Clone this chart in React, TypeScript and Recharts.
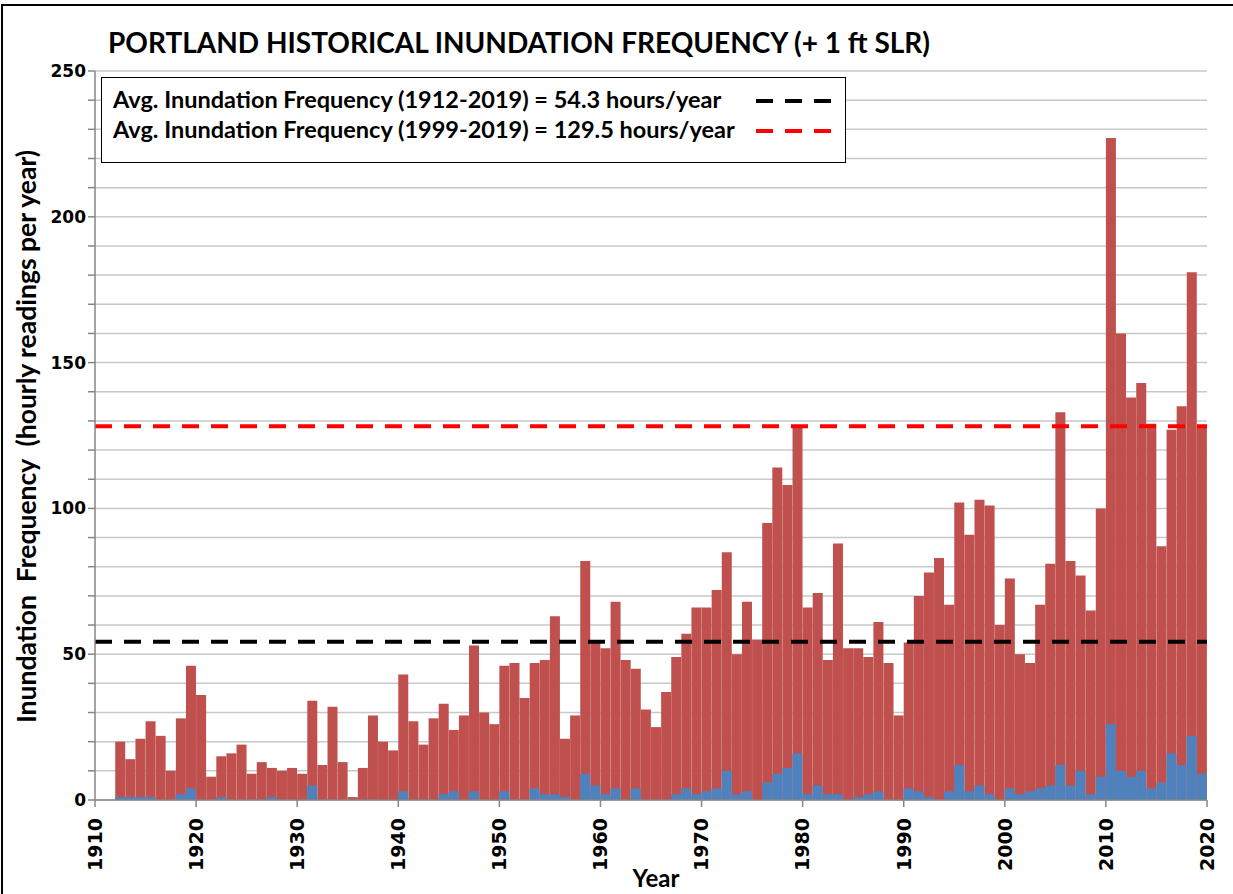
import { ComposedChart, Bar, XAxis, YAxis, CartesianGrid, ReferenceLine, Label } from 'recharts'

const years = [
  1912, 1913, 1914, 1915, 1916, 1917, 1918, 1919,
  1920, 1921, 1922, 1923, 1924, 1925, 1926, 1927, 1928, 1929,
  1930, 1931, 1932, 1933, 1934, 1935, 1936, 1937, 1938, 1939,
  1940, 1941, 1942, 1943, 1944, 1945, 1946, 1947, 1948, 1949,
  1950, 1951, 1952, 1953, 1954, 1955, 1956, 1957, 1958, 1959,
  1960, 1961, 1962, 1963, 1964, 1965, 1966, 1967, 1968, 1969,
  1970, 1971, 1972, 1973, 1974, 1975, 1976, 1977, 1978, 1979,
  1980, 1981, 1982, 1983, 1984, 1985, 1986, 1987, 1988, 1989,
  1990, 1991, 1992, 1993, 1994, 1995, 1996, 1997, 1998, 1999,
  2000, 2001, 2002, 2003, 2004, 2005, 2006, 2007, 2008, 2009,
  2010, 2011, 2012, 2013, 2014, 2015, 2016, 2017, 2018, 2019,
]

// hours per year with +1 ft sea level rise (red)
const plusOneFt = [
  20, 14, 21, 27, 22, 10, 28, 46,
  36, 8, 15, 16, 19, 9, 13, 11, 10, 11,
  9, 34, 12, 32, 13, 1, 11, 29, 20, 17,
  43, 27, 19, 28, 33, 24, 29, 53, 30, 26,
  46, 47, 35, 47, 48, 63, 21, 29, 82, 54,
  52, 68, 48, 45, 31, 25, 37, 49, 57, 66,
  66, 72, 85, 50, 68, 55, 95, 114, 108, 128,
  66, 71, 48, 88, 52, 52, 49, 61, 47, 29,
  54, 70, 78, 83, 67, 102, 91, 103, 101, 60,
  76, 50, 47, 67, 81, 133, 82, 77, 65, 100,
  227, 160, 138, 143, 129, 87, 127, 135, 181, 128,
]

// hours per year at present sea level (blue)
const current = [
  1, 1, 1, 1, 0, 0, 2, 4,
  0, 0, 1, 0, 0, 0, 0, 1, 0, 0,
  0, 5, 0, 0, 0, 0, 0, 0, 0, 0,
  3, 0, 0, 0, 2, 3, 0, 3, 0, 0,
  3, 0, 0, 4, 2, 2, 1, 0, 9, 5,
  2, 4, 0, 4, 0, 0, 0, 2, 4, 2,
  3, 4, 10, 2, 3, 0, 6, 9, 11, 16,
  2, 5, 2, 2, 0, 1, 2, 3, 0, 0,
  4, 3, 1, 0, 3, 12, 3, 5, 2, 0,
  4, 2, 3, 4, 5, 12, 5, 10, 2, 8,
  26, 10, 8, 10, 4, 6, 16, 12, 22, 9,
]

const xTicks = [1910, 1920, 1930, 1940, 1950, 1960, 1970, 1980, 1990, 2000, 2010, 2020]
const yTicks = [0, 10, 20, 30, 40, 50, 60, 70, 80, 90, 100, 110, 120, 130, 140, 150, 160, 170, 180, 190, 200, 210, 220, 230, 240, 250]
const yLabelTicks = [0, 50, 100, 150, 200, 250]

const avgLabels = [
  'Avg. Inundation Frequency (1912-2019) = 54.3 hours/year',
  'Avg. Inundation Frequency (1999-2019) = 129.5 hours/year',
]
const avgValues = [54.3, 128.2]
const avgColors = ['#000000', '#ff0000']

const data = years.map((y, i) => ({ x: y + 0.5, plus: plusOneFt[i], now: current[i] }))

const tickFont = '"DejaVu Sans", Verdana, sans-serif'
const textFont = 'Lato, Calibri, sans-serif'

function XTick({ x, y, payload }: any) {
  return (
    <g transform={`translate(${x},${y}) rotate(-90)`}>
      <text x={-9} dy="0.36em" textAnchor="end" fontFamily={tickFont} fontWeight="bold" fontSize={19} fill="#000">
        {payload.value}
      </text>
    </g>
  )
}

function YTick({ x, y, payload }: any) {
  if (!yLabelTicks.includes(payload.value)) return null
  return (
    <text x={x} y={y} dy="0.35em" textAnchor="end" fontFamily={tickFont} fontWeight="bold" fontSize={17} fill="#000">
      {payload.value}
    </text>
  )
}

export default function App() {
  return (
    <div style={{ position: 'absolute', left: 0, top: 0, width: 1233, height: 894, background: '#fff', overflow: 'hidden' }}>
      <div style={{ position: 'absolute', left: 1, top: 4, width: 1260, height: 920, border: '2px solid #000' }} />
      <div style={{ position: 'absolute', left: 108, top: 25, fontFamily: textFont, fontWeight: 'bold', fontSize: 28, color: '#000', whiteSpace: 'nowrap' }}>
        PORTLAND HISTORICAL INUNDATION FREQUENCY (+ 1 ft SLR)
      </div>
      <ComposedChart
        width={1233}
        height={894}
        data={data}
        margin={{ top: 71, right: 26, bottom: 24, left: 35 }}
        barCategoryGap={0}
        barGap="-100%"
      >
        <CartesianGrid vertical={false} stroke="#c8c8c8" strokeWidth={1.5} />
        <XAxis
          type="number"
          dataKey="x"
          domain={[1910, 2020]}
          ticks={xTicks}
          interval={0}
          height={70}
          tickSize={7}
          tick={<XTick />}
          axisLine={{ stroke: '#868686', strokeWidth: 1.5 }}
          tickLine={{ stroke: '#868686', strokeWidth: 1.5 }}
        >
          <Label
            content={({ viewBox }: any) => (
              <text x={viewBox.x + viewBox.width / 2 + 5} y={viewBox.y + 87} textAnchor="middle" fontFamily={textFont} fontWeight="bold" fontSize={24} fill="#000">
                Year
              </text>
            )}
          />
        </XAxis>
        <YAxis
          domain={[0, 250]}
          ticks={yTicks}
          interval={0}
          width={60}
          tickSize={7}
          tick={<YTick />}
          axisLine={{ stroke: '#868686', strokeWidth: 1.5 }}
          tickLine={{ stroke: '#868686', strokeWidth: 1.5 }}
        >
          <Label
            content={({ viewBox }: any) => (
              <text
                transform={`translate(${viewBox.x - 8},${viewBox.y + viewBox.height / 2 + 1}) rotate(-90)`}
                textAnchor="middle"
                dy="0.35em"
                fontFamily={textFont}
                fontWeight="bold"
                fontSize={26.5}
                fill="#000"
                style={{ whiteSpace: 'pre' }}
              >
                {'Inundation  Frequency  (hourly readings per year)'}
              </text>
            )}
          />
        </YAxis>
        <Bar dataKey="plus" fill="#c0504d" isAnimationActive={false} />
        <Bar dataKey="now" fill="#4f81bd" isAnimationActive={false} />
        {avgValues.map((v, i) => (
          <ReferenceLine key={i} y={v} stroke={avgColors[i]} strokeWidth={4} strokeDasharray="17 12" />
        ))}
      </ComposedChart>
      <div
        style={{
          position: 'absolute', left: 101, top: 77, width: 743, height: 84, border: '1.5px solid #000', background: '#fff',
          fontFamily: textFont, fontWeight: 'bold', fontSize: 23.5, color: '#000',
        }}
      >
        {avgLabels.map((t, i) => (
          <div key={i} style={{ position: 'absolute', left: 11, top: 7 + i * 30, whiteSpace: 'nowrap' }}>{t}</div>
        ))}
        <svg style={{ position: 'absolute', left: 650, top: 0 }} width={90} height={84}>
          {avgColors.map((c, i) => (
            <line key={i} x1={4} x2={82} y1={23 + i * 30} y2={23 + i * 30} stroke={c} strokeWidth={4} strokeDasharray="17 12" />
          ))}
        </svg>
      </div>
    </div>
  )
}
